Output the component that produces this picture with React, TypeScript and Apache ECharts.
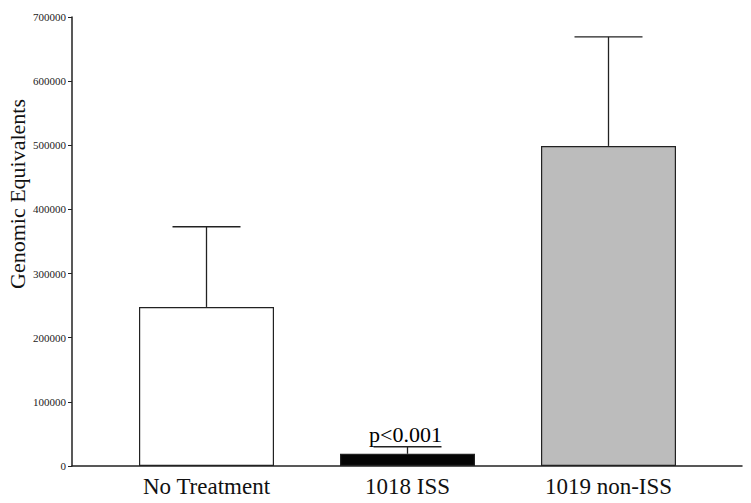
import React, { useEffect, useRef } from "react";
import * as echarts from "echarts";

const categories = ["No Treatment", "1018 ISS", "1019 non-ISS"];
const means = [248000, 19000, 499000];
const errorTops = [373000, 30000, 669000];
const barColors = ["#ffffff", "#050505", "#bcbcbc"];
const yTicks = { min: 0, max: 700000, interval: 100000 };
const annotations = [{ category: "1018 ISS", value: 30000, text: "p<0.001" }];
const yAxisTitle = "Genomic Equivalents";

const SERIF = "'Liberation Serif', 'DejaVu Serif', serif";

export default function App() {
  const ref = useRef<HTMLDivElement>(null);
  useEffect(() => {
    document.body.style.margin = "0";
    if (!ref.current) return;
    const chart = echarts.init(ref.current, undefined, { renderer: "svg" });
    const option: any = {
      animation: false,
      backgroundColor: "#ffffff",
      grid: [
        { left: 72, right: 9, top: 17, bottom: 37 },
        { left: 106, right: 42, top: 17, bottom: 37 },
      ],
      xAxis: [
        {
          type: "category",
          gridIndex: 0,
          data: categories,
          axisLine: { show: true, lineStyle: { color: "#222", width: 1.5 } },
          axisTick: { show: false },
          axisLabel: { show: false },
          splitLine: { show: false },
        },
        {
          type: "category",
          gridIndex: 1,
          data: categories,
          axisLine: { show: false },
          axisTick: { show: false },
          axisLabel: {
            show: true,
            margin: 9,
            color: "#111",
            fontFamily: SERIF,
            fontSize: 23,
          },
          splitLine: { show: false },
        },
      ],
      yAxis: [
        {
          type: "value",
          gridIndex: 0,
          min: yTicks.min,
          max: yTicks.max,
          interval: yTicks.interval,
          axisLine: { show: true, lineStyle: { color: "#222", width: 1.5 } },
          axisTick: { show: true, length: 4, lineStyle: { color: "#222", width: 1 } },
          axisLabel: {
            margin: 6,
            color: "#222",
            fontFamily: SERIF,
            fontSize: 11,
            formatter: (v: number) => String(v),
          },
          splitLine: { show: false },
        },
        {
          type: "value",
          gridIndex: 1,
          min: yTicks.min,
          max: yTicks.max,
          interval: yTicks.interval,
          show: false,
          splitLine: { show: false },
        },
      ],
      graphic: [
        {
          type: "text",
          x: 17,
          y: 194,
          rotation: Math.PI / 2,
          style: {
            text: yAxisTitle,
            fontFamily: SERIF,
            fontSize: 22,
            fill: "#111",
            textAlign: "center",
            textVerticalAlign: "middle",
          },
        },
      ],
      series: [
        {
          type: "bar",
          xAxisIndex: 1,
          yAxisIndex: 1,
          barWidth: 135,
          data: means.map((v, i) => ({
            value: v,
            itemStyle: { color: barColors[i], borderColor: "#222", borderWidth: 1.2 },
          })),
          z: 2,
        },
        {
          type: "custom",
          xAxisIndex: 1,
          yAxisIndex: 1,
          data: means.map((v, i) => [i, v, errorTops[i]]),
          renderItem: (params: any, api: any) => {
            const x = api.value(0);
            const base = api.coord([x, api.value(1)]);
            const top = api.coord([x, api.value(2)]);
            const half = 34;
            const style = { stroke: "#222", lineWidth: 1.3 };
            return {
              type: "group",
              children: [
                { type: "line", shape: { x1: top[0], y1: base[1], x2: top[0], y2: top[1] }, style },
                { type: "line", shape: { x1: top[0] - half, y1: top[1], x2: top[0] + half, y2: top[1] }, style },
              ],
            };
          },
          z: 3,
        },
        {
          type: "scatter",
          xAxisIndex: 1,
          yAxisIndex: 1,
          symbolSize: 0,
          itemStyle: { opacity: 1 },
          data: annotations.map((a) => ({
            value: [a.category, a.value],
            label: {
              show: true,
              formatter: a.text,
              position: "top",
              distance: 1,
              offset: [-2, 0],
              fontFamily: SERIF,
              fontSize: 22,
              color: "#000",
              opacity: 1,
            },
          })),
          z: 4,
        },
      ],
    };
    chart.setOption(option);
    return () => chart.dispose();
  }, []);
  return <div ref={ref} style={{ width: 751, height: 503 }} />;
}
